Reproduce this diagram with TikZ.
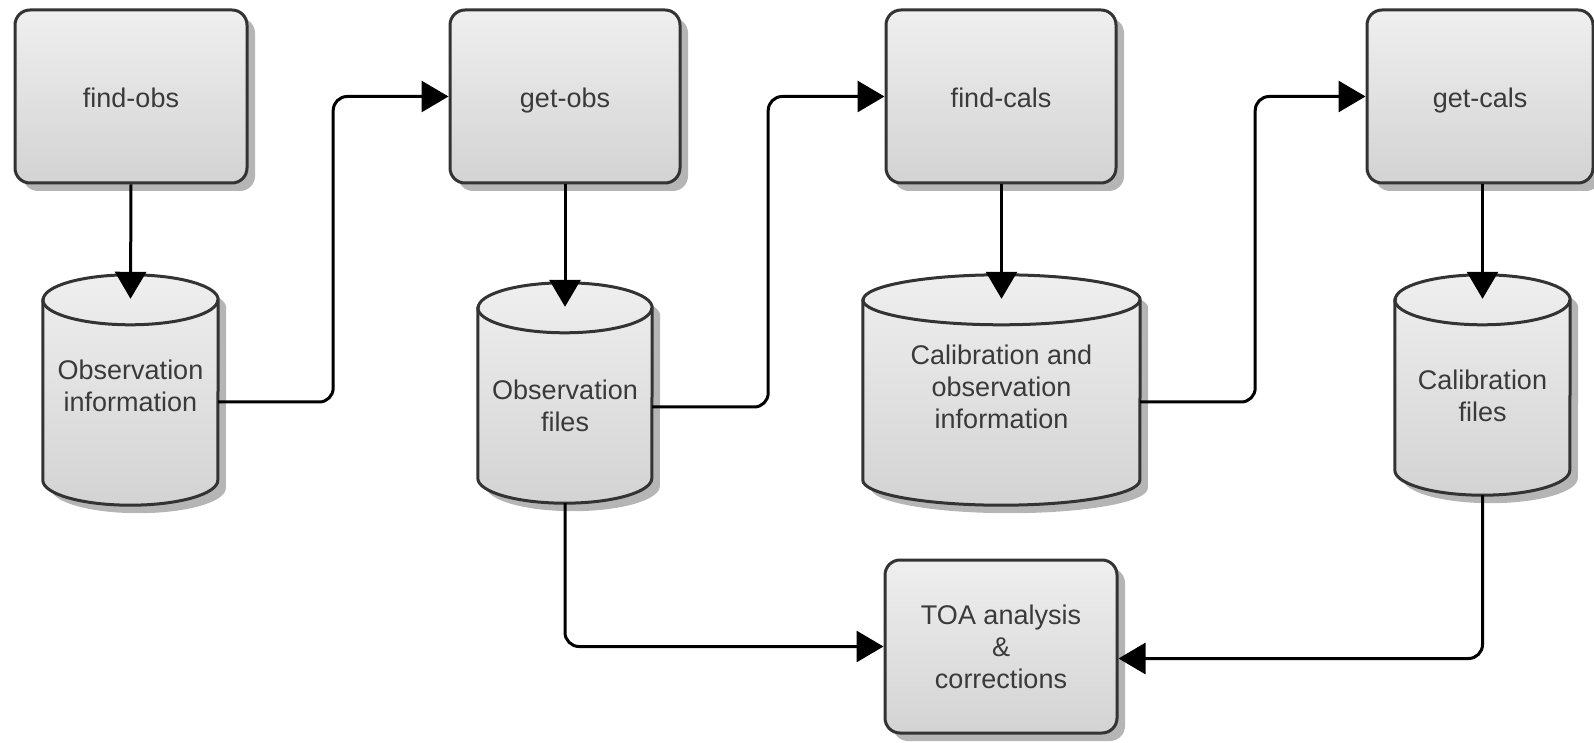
\documentclass[tikz,border=0pt]{standalone}
\usepackage{fontspec}
\setmainfont{Liberation Sans}
\usetikzlibrary{arrows.meta,calc,shadows}

\definecolor{edgegray}{HTML}{333333}
\definecolor{filltop}{HTML}{EFEFEF}
\definecolor{fillbot}{HTML}{D3D3D3}
\definecolor{shadowgray}{HTML}{B5B5B5}
\definecolor{txtgray}{HTML}{3A3A3A}

\tikzset{
  labelfont/.style={text=txtgray, font=\fontsize{27}{32}\selectfont, align=center},
  proc/.style={draw=edgegray, line width=3pt, rounded corners=15pt,
    top color=filltop, bottom color=fillbot,
    minimum width=230pt, minimum height=173pt, inner sep=0pt, labelfont,
    drop shadow={shadow xshift=8pt, shadow yshift=-8pt, fill=shadowgray, opacity=1}},
  oneline/.style={text height=24pt, text depth=2pt},
  store/.style={draw=none, inner sep=0pt, rectangle},
  storetext/.style={labelfont, inner sep=0pt},
  cylbody/.style={draw=edgegray, line width=3pt, top color=filltop, bottom color=fillbot},
  conn/.style={draw=black, line width=3pt, rounded corners=14pt,
    -{Triangle[length=27pt, width=31pt]}},
}

% cylinder outline drawn around a store node: #1 node name, #2 half width
\newcommand{\drawstore}[2]{%
  \fill[shadowgray] ($(#1.north west)+(8,-33)$) -- ($(#1.south west)+(8,17)$)
    arc[start angle=180, end angle=360, x radius=#2, y radius=25]
    -- ($(#1.north east)+(8,-33)$)
    arc[start angle=0, end angle=180, x radius=#2, y radius=25] -- cycle;
  \path[cylbody] ($(#1.north west)+(0,-25)$) -- ($(#1.south west)+(0,25)$)
    arc[start angle=180, end angle=360, x radius=#2, y radius=25]
    -- ($(#1.north east)+(0,-25)$)
    arc[start angle=0, end angle=180, x radius=#2, y radius=25] -- cycle;
  \draw[edgegray, line width=3pt] ($(#1.north west)+(0,-25)$)
    arc[start angle=180, end angle=360, x radius=#2, y radius=25];
}

\begin{document}
\begin{tikzpicture}[x=1pt, y=1pt]
  \useasboundingbox (0,0) rectangle (1594,742);

  % process steps
  \node[proc, oneline] (findobs)  at (131,645.5)  [minimum width=232pt] {find-obs};
  \node[proc, oneline] (getobs)   at (565,645.5)  {get-obs};
  \node[proc, oneline] (findcals) at (1001,645.5) {find-cals};
  \node[proc, oneline] (getcals)  at (1480,645.5) [minimum width=226pt] {get-cals};
  \node[proc] (toa) at (1001,95.5) [minimum width=232pt] {TOA analysis\\\&\\corrections};

  % data stores
  \node[store, minimum width=175pt, minimum height=230pt] (obsinfo)  at (130.5,352) {};
  \node[store, minimum width=174pt, minimum height=220pt] (obsfiles) at (565,349) {};
  \node[store, minimum width=277pt, minimum height=230pt] (calinfo)  at (1001.5,352) {};
  \node[store, minimum width=175pt, minimum height=220pt] (calfiles) at (1482.5,357) {};

  \drawstore{obsinfo}{87.5}
  \drawstore{obsfiles}{87}
  \drawstore{calinfo}{138.5}
  \drawstore{calfiles}{87.5}

  \node[storetext] (obsinfotext)  at ($(obsinfo)+(0,4)$)    {Observation\\information};
  \node[storetext] (obsfilestext) at ($(obsfiles)+(0,-13)$) {Observation\\files};
  \node[storetext] (calinfotext)  at ($(calinfo)+(0,3)$)    {Calibration and\\observation\\information};
  \node[storetext] (calfilestext) at ($(calfiles)+(0,-11)$) {Calibration\\files};

  % flow
  \draw[conn] (findobs.south) -- ($(obsinfo.north)+(0,-24)$);
  \draw[conn] (getobs.south) -- ($(obsfiles.north)+(0,-24)$);
  \draw[conn] (findcals.south -| calinfo.north) -- ($(calinfo.north)+(0,-24)$);
  \draw[conn] (getcals.south -| calfiles.north) -- ($(calfiles.north)+(0,-24)$);

  \draw[conn] ($(obsinfo.east)+(0,-12)$) -- ++(115,0) |- (getobs.west);
  \draw[conn] ($(obsfiles.east)+(0,-14)$) -- ++(116,0) |- (findcals.west);
  \draw[conn] ($(calinfo.east)+(0,-12)$) -- ++(115,0) |- (getcals.west);

  \draw[conn] (obsfiles.south) |- (toa.west);
  \draw[conn] (calfiles.south) |- ($(toa.east)+(0,-12)$);
\end{tikzpicture}
\end{document}
